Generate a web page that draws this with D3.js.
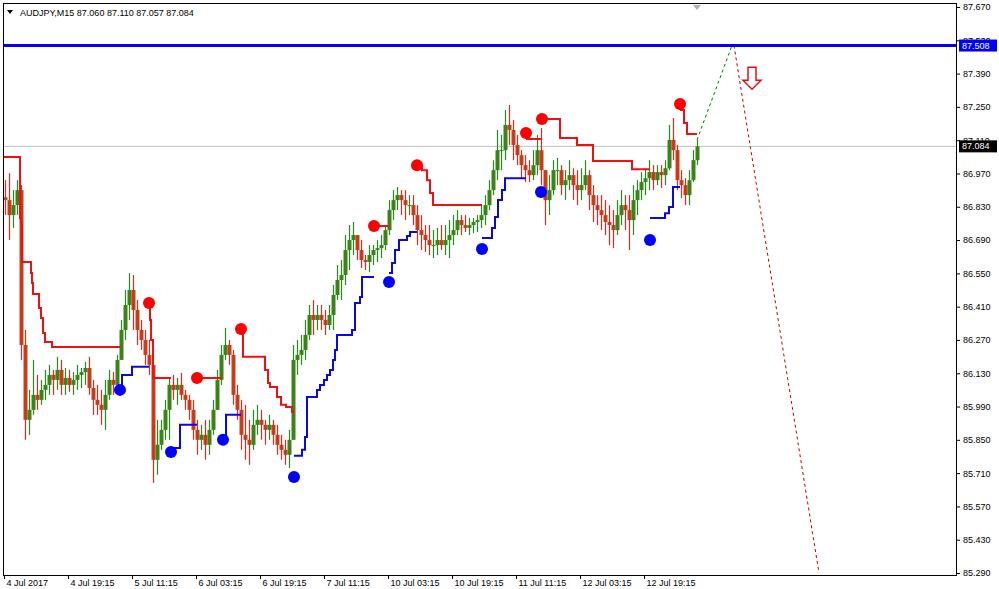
<!DOCTYPE html>
<html><head><meta charset="utf-8">
<script src="https://cdn.jsdelivr.net/npm/d3@7"></script>
<style>
body{margin:0;background:#fff;}
svg{display:block;}
text{font-family:"Liberation Sans",Arial,sans-serif;font-size:9px;fill:#000;}
</style>
</head><body><svg id="c" width="999" height="589"></svg>
<script>
// ---------- DATA ----------
const symbol = "AUDJPY,M15";
const lastBar = [87.060, 87.110, 87.057, 87.084];
const firstOpen = 86.870;
// hourly candles (4 x M15 bars each)
const hi = [86.942,86.971,86.900,86.942,86.921,86.312,86.060,86.186,86.123,86.102,
86.144,86.165,86.144,86.199,86.186,86.152,86.144,86.135,86.165,86.152,
86.178,86.199,86.102,86.081,86.060,86.102,86.144,86.135,86.207,86.354,
86.480,86.551,86.543,86.438,86.354,86.312,86.270,86.165,85.934,85.934,
86.018,86.114,86.123,86.110,86.131,86.060,86.039,86.018,85.934,85.913,
85.934,85.934,86.018,86.144,86.249,86.321,86.270,86.228,86.081,86.018,
85.997,85.934,85.976,85.997,85.976,85.934,85.955,85.934,85.913,85.871,
85.850,85.892,86.249,86.270,86.291,86.354,86.417,86.438,86.417,86.417,
86.396,86.417,86.501,86.585,86.606,86.711,86.753,86.766,86.711,86.690,
86.627,86.669,86.669,86.690,86.711,86.753,86.858,86.900,86.913,86.900,
86.900,86.879,86.879,86.837,86.795,86.753,86.753,86.732,86.741,86.753,
86.753,86.774,86.795,86.816,86.795,86.795,86.783,86.783,86.795,86.837,
86.879,86.942,87.026,87.153,87.132,87.237,87.258,87.195,87.132,87.068,
87.047,87.026,87.068,87.132,87.161,86.984,86.963,87.026,87.035,87.005,
86.984,87.026,86.992,86.984,86.992,87.026,86.984,86.921,86.879,86.879,
86.858,86.837,86.816,86.858,86.900,86.879,86.879,86.921,86.942,86.976,
86.992,87.026,87.005,87.005,87.005,87.026,87.174,87.203,87.090,86.984,
86.950,86.984,87.068,87.111];
const lo = [86.795,86.690,86.741,86.795,86.186,85.850,85.871,85.955,85.976,85.997,
86.018,86.039,86.039,86.060,86.039,86.039,86.052,86.039,86.060,86.068,
86.081,86.039,85.955,85.955,85.913,85.892,86.018,86.039,86.102,86.207,
86.270,86.354,86.312,86.249,86.228,86.165,86.123,85.669,85.703,85.808,
85.850,85.850,86.018,85.997,86.018,85.976,85.934,85.850,85.787,85.808,
85.766,85.787,85.871,85.976,86.081,86.186,86.165,85.997,85.934,85.808,
85.766,85.745,85.808,85.871,85.850,85.829,85.850,85.829,85.787,85.766,
85.745,85.732,85.850,86.123,86.165,86.186,86.270,86.291,86.312,86.312,
86.291,86.312,86.312,86.438,86.438,86.501,86.564,86.627,86.606,86.572,
86.564,86.556,86.585,86.598,86.614,86.648,86.711,86.774,86.816,86.795,
86.774,86.795,86.753,86.669,86.648,86.640,86.627,86.614,86.627,86.648,
86.627,86.614,86.669,86.711,86.711,86.724,86.711,86.720,86.724,86.741,
86.753,86.816,86.879,86.942,86.984,87.026,87.090,87.026,87.005,86.950,
86.934,86.934,86.942,86.963,86.921,86.753,86.795,86.879,86.921,86.879,
86.858,86.900,86.858,86.837,86.858,86.900,86.816,86.766,86.753,86.732,
86.711,86.669,86.656,86.711,86.753,86.732,86.648,86.711,86.795,86.858,
86.879,86.900,86.900,86.921,86.909,86.921,86.984,87.026,86.900,86.866,
86.837,86.837,86.934,87.005];
const cl = [86.858,86.795,86.837,86.900,86.249,85.934,85.976,86.039,86.018,86.060,
86.081,86.123,86.102,86.144,86.081,86.110,86.081,86.102,86.123,86.135,
86.152,86.068,86.018,85.997,85.976,86.039,86.102,86.081,86.186,86.312,
86.417,86.480,86.396,86.312,86.270,86.207,86.165,85.766,85.829,85.892,
85.976,86.081,86.060,86.081,86.039,86.018,85.976,85.892,85.850,85.871,
85.829,85.892,85.976,86.102,86.207,86.249,86.207,86.039,85.976,85.871,
85.850,85.829,85.913,85.934,85.913,85.892,85.913,85.871,85.829,85.808,
85.787,85.850,86.186,86.207,86.228,86.291,86.375,86.354,86.375,86.354,
86.333,86.375,86.459,86.522,86.543,86.648,86.690,86.711,86.648,86.606,
86.598,86.627,86.648,86.656,86.669,86.732,86.816,86.858,86.879,86.858,
86.837,86.837,86.795,86.732,86.711,86.690,86.669,86.669,86.690,86.669,
86.690,86.711,86.732,86.774,86.753,86.741,86.753,86.766,86.774,86.795,
86.837,86.900,86.984,87.068,87.068,87.174,87.153,87.090,87.047,87.005,
86.984,86.963,87.005,87.068,86.984,86.858,86.900,86.984,86.984,86.921,
86.942,86.963,86.921,86.900,86.921,86.963,86.879,86.837,86.816,86.795,
86.766,86.753,86.732,86.795,86.837,86.816,86.774,86.858,86.900,86.934,
86.950,86.976,86.942,86.976,86.963,86.992,87.111,87.068,86.942,86.921,
86.879,86.942,87.026,87.084];

// price axis ticks
const priceTicks = [87.670,87.530,87.390,87.250,87.110,86.970,86.830,86.690,86.550,86.410,
86.270,86.130,85.990,85.850,85.710,85.570,85.430,85.290];
// time axis ticks (M15 bar index) and labels
const timeTickBars = [0,64,128,192,256,320,384,448,512,576,640];
const timeTickLabels = ["4 Jul 2017","4 Jul 19:15","5 Jul 11:15","6 Jul 03:15","6 Jul 19:15",
"7 Jul 11:15","10 Jul 03:15","10 Jul 19:15","11 Jul 11:15","12 Jul 03:15","12 Jul 19:15"];

// indicator step lines [M15 bar index, price]
const redSteps = [
 [[0,87.039],[16,86.783],[17,86.766],[18,86.598],[27,86.551],[28,86.509],[29,86.463],[35,86.404],[37,86.362],[39,86.299],[41,86.261],[48,86.240],[116,86.240]],
 [[145,86.425],[146,86.354],[147,86.270],[149,86.110],[167,86.110]],
 [[193,86.110],[218,86.110]],
 [[237,86.316],[239,86.199],[261,86.144],[264,86.089],[266,86.072],[273,86.030],[277,85.997],[282,85.988],[288,85.967],[290,85.967]],
 [[370,86.749],[385,86.749]],
 [[413,86.997],[418,86.984],[423,86.942],[426,86.888],[429,86.837],[478,86.837]],
 [[522,87.115],[537,87.115]],
 [[538,87.199],[556,87.119],[573,87.090],[589,87.022],[628,86.988],[646,86.988]],
 [[676,87.237],[680,87.182],[683,87.136],[693,87.136]]
];
const blueSteps = [
 [[116,86.060],[118,86.123],[128,86.157],[145,86.157]],
 [[167,85.816],[176,85.913],[193,85.913]],
 [[219,85.862],[222,85.955],[237,85.955]],
 [[290,85.783],[298,85.808],[301,85.862],[303,86.030],[313,86.060],[316,86.081],[320,86.102],[323,86.123],[326,86.144],[329,86.186],[331,86.228],[333,86.291],[348,86.312],[351,86.425],[356,86.451],[358,86.535],[370,86.535]],
 [[385,86.551],[388,86.594],[391,86.648],[395,86.690],[403,86.707],[406,86.724],[413,86.724]],
 [[478,86.699],[488,86.741],[491,86.787],[494,86.858],[498,86.900],[501,86.950],[522,86.950]],
 [[646,86.783],[661,86.803],[665,86.829],[669,86.913],[676,86.913]]
];
const redDots = [[145,86.425],[193,86.110],[237,86.316],[370,86.749],[413,87.005],[522,87.140],[538,87.199],[676,87.262]];
const blueDots = [[116,86.060],[167,85.799],[219,85.850],[290,85.694],[385,86.514],[478,86.652],[537,86.892],[646,86.690]];

const levelLine = 87.508;
const bidLine = 87.084;
const projUp = [[693,87.111],[728,87.508]];
const projDown = [[730,87.508],[815,85.290]];
const arrowMark = [748, 87.417];

// ---------- DRAW ----------
const svg = d3.select("#c");
const L = 3, R = 957, T = 3, B = 575;
const x = d3.scaleLinear().domain([0, 953]).range([4, 957]);
const y = d3.scaleLinear().domain([85.290, 87.670]).range([573, 7]);

svg.append("defs").append("clipPath").attr("id","clip")
  .append("rect").attr("x",L).attr("y",T).attr("width",R-L).attr("height",B-T);
const g = svg.append("g").attr("clip-path","url(#clip)");

// bid line
g.append("line").attr("x1",L).attr("x2",R).attr("y1",y(bidLine)).attr("y2",y(bidLine))
  .attr("stroke","#c0c0c0").attr("stroke-width",1);

// candles
const UPW = "#1f8f1f", DNW = "#e8261c", UPB = "#4c7d14", DNB = "#b84a1c";
const candles = hi.map((h,k)=>{
  const o = k===0 ? firstOpen : cl[k-1];
  const c = cl[k];
  return {k, o, c, h: Math.max(h,o,c), l: Math.min(lo[k],o,c)};
});
const cg = g.append("g");
candles.forEach(d=>{
  const xc = x(d.k*4 + 1.5);
  const up = d.c >= d.o;
  const y0 = y(Math.max(d.o,d.c)), y1 = y(Math.min(d.o,d.c));
  cg.append("rect").attr("x",xc-2).attr("width",4).attr("y",y0).attr("height",Math.max(1,y1-y0))
    .attr("fill",up ? UPB : DNB);
  cg.append("line").attr("x1",xc).attr("x2",xc).attr("y1",y(d.h)).attr("y2",y(d.l))
    .attr("stroke",up ? UPW : DNW).attr("stroke-width",1.2);
});

// step lines
const stepLine = d3.line().x(d=>x(d[0])).y(d=>y(d[1])).curve(d3.curveStepAfter);
g.selectAll(".rs").data(redSteps).enter().append("path")
  .attr("d",stepLine).attr("fill","none").attr("stroke","#ee1111").attr("stroke-width",2);
g.selectAll(".bs").data(blueSteps).enter().append("path")
  .attr("d",stepLine).attr("fill","none").attr("stroke","#0a0adc").attr("stroke-width",2);

// dots
g.selectAll(".rd").data(redDots).enter().append("circle")
  .attr("cx",d=>x(d[0])).attr("cy",d=>y(d[1])).attr("r",6).attr("fill","#ff0000");
g.selectAll(".bd").data(blueDots).enter().append("circle")
  .attr("cx",d=>x(d[0])).attr("cy",d=>y(d[1])).attr("r",6).attr("fill","#0000ff");

// projection lines
const ln = d3.line().x(d=>x(d[0])).y(d=>y(d[1]));
g.append("path").attr("d",ln(projUp)).attr("stroke","#008000").attr("stroke-width",1)
  .attr("stroke-dasharray","3,3").attr("fill","none");
g.append("path").attr("d",ln(projDown)).attr("stroke","#c00000").attr("stroke-width",1)
  .attr("stroke-dasharray","3,3").attr("fill","none");

// level line
g.append("line").attr("x1",L).attr("x2",R).attr("y1",y(levelLine)).attr("y2",y(levelLine))
  .attr("stroke","#0000ff").attr("stroke-width",3);

// arrow
const ax = x(arrowMark[0]), ay = y(arrowMark[1]);
g.append("path")
  .attr("d",`M${ax-4},${ay} L${ax+4},${ay} L${ax+4},${ay+13} L${ax+9},${ay+13} L${ax},${ay+22} L${ax-9},${ay+13} L${ax-4},${ay+13} Z`)
  .attr("fill","#fff").attr("stroke","#e01010").attr("stroke-width",1.5);

// chart shift marker
const mx = x(hi.length*4 - 3);
svg.append("path").attr("d",`M${mx-4},${T+2} L${mx+4},${T+2} L${mx},${T+7} Z`).attr("fill","#b0b0b0");

// frame
svg.append("rect").attr("x",L+0.5).attr("y",T+0.5).attr("width",R-L-1).attr("height",B-T)
  .attr("fill","none").attr("stroke","#000").attr("stroke-width",1);

// right axis
const ay2 = svg.append("g").attr("transform",`translate(${R},0)`)
  .call(d3.axisRight(y).tickValues(priceTicks).tickSize(3).tickFormat(d3.format(".3f")));
ay2.select(".domain").remove();
ay2.selectAll("text").attr("x",6).style("font-family","Liberation Sans, Arial, sans-serif").style("font-size","9px").attr("fill","#000");
ay2.selectAll("line").attr("stroke","#000");

// bottom axis
const ax2 = svg.append("g").attr("transform",`translate(0,${B})`)
  .call(d3.axisBottom(x).tickValues(timeTickBars).tickSize(4).tickFormat((d,i)=>timeTickLabels[i]));
ax2.select(".domain").remove();
ax2.selectAll("text").attr("text-anchor","start").attr("x",2).attr("y",5)
  .style("font-family","Liberation Sans, Arial, sans-serif").style("font-size","9px").attr("fill","#000");
ax2.selectAll("line").attr("stroke","#000");

// price labels on the axis
function tag(v, bg){
  const yy = y(v);
  svg.append("rect").attr("x",R+2).attr("y",yy-6).attr("width",38).attr("height",12).attr("fill",bg);
  svg.append("text").attr("x",R+5).attr("y",yy).attr("dy","0.34em").attr("fill","#fff")
    .style("fill","#fff").text(d3.format(".3f")(v));
}
tag(levelLine, "#0000ff");
tag(bidLine, "#000000");

// title
svg.append("path").attr("d","M7,10 L13,10 L10,14 Z").attr("fill","#000");
svg.append("text").attr("x",20).attr("y",16)
  .text(symbol + "  " + lastBar.map(d3.format(".3f")).join(" "));
</script>
</body></html>
